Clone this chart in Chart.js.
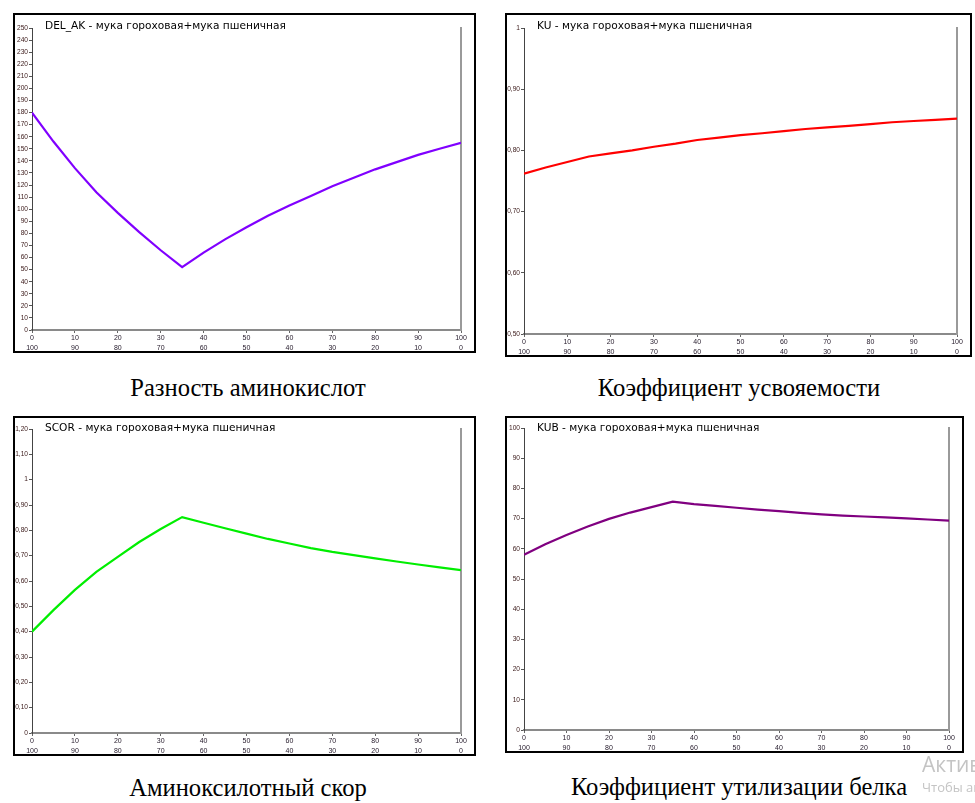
<!DOCTYPE html>
<html>
<head>
<meta charset="utf-8">
<script src="https://cdn.jsdelivr.net/npm/chart.js@4/dist/chart.umd.min.js"></script>
<style>
  body { margin: 0; background: #fff; width: 975px; height: 803px; overflow: hidden; position: relative; }
  .frame { position: absolute; border: 2px solid #000; box-sizing: border-box; background: #fff; }
  .frame canvas { position: absolute; left: 0; top: 0; }
  .ttl { position: absolute; font: 10.6px "DejaVu Sans", sans-serif; color: #000; white-space: nowrap; line-height: 12px; }
  .cap { position: absolute; font: 24.6px "Liberation Serif", serif; color: #000; white-space: nowrap; transform: translateX(-50%); line-height: 28px; }
  .wm1 { position: absolute; left: 922px; top: 750px; font: 21px "Open Sans", sans-serif; color: #c4c4c4; white-space: nowrap; }
  .wm2 { position: absolute; left: 922px; top: 778px; font: 13px "Open Sans", sans-serif; color: #c4c4c4; white-space: nowrap; }
</style>
</head>
<body>

<div class="frame" style="left:13px;top:13px;width:463px;height:340px"><canvas id="c1" width="459" height="336"></canvas></div>
<div class="frame" style="left:505px;top:13px;width:467px;height:344px"><canvas id="c2" width="463" height="340"></canvas></div>
<div class="frame" style="left:13px;top:416px;width:463px;height:340px"><canvas id="c3" width="459" height="336"></canvas></div>
<div class="frame" style="left:505px;top:416px;width:459px;height:337px"><canvas id="c4" width="455" height="333"></canvas></div>

<div class="ttl" style="left:45px;top:19px">DEL_AK - мука гороховая+мука пшеничная</div>
<div class="ttl" style="left:537px;top:19px">KU - мука гороховая+мука пшеничная</div>
<div class="ttl" style="left:45px;top:421px">SCOR - мука гороховая+мука пшеничная</div>
<div class="ttl" style="left:537px;top:421px">KUB - мука гороховая+мука пшеничная</div>

<div class="cap" style="left:248px;top:374px">Разность аминокислот</div>
<div class="cap" style="left:739px;top:374px">Коэффициент усвояемости</div>
<div class="cap" style="left:248px;top:774px">Аминоксилотный скор</div>
<div class="cap" style="left:739px;top:773px">Коэффициент утилизации белка</div>

<div class="wm1">Активация Windows</div>
<div class="wm2">Чтобы активировать Windows, перейдите в раздел "Параметры".</div>

<script>
// share of pea flour, %
const xs = [0, 5, 10, 15, 20, 25, 30, 35, 40, 45, 50, 55, 60, 65, 70, 75, 80, 85, 90, 95, 100];

const delAk = [180, 156, 134, 114, 97, 81, 66, 52, 64, 75, 85, 94.5, 103, 111, 119, 126, 133, 139, 145, 150, 155];
const ku = [0.762, 0.772, 0.781, 0.790, 0.795, 0.800, 0.806, 0.811, 0.817, 0.821, 0.825, 0.828, 0.8315, 0.835, 0.8375, 0.840, 0.843, 0.846, 0.848, 0.850, 0.852];
const scor = [0.40, 0.485, 0.565, 0.636, 0.695, 0.754, 0.805, 0.852, 0.830, 0.808, 0.787, 0.766, 0.748, 0.730, 0.715, 0.702, 0.689, 0.677, 0.665, 0.654, 0.643];
const kub = [58, 61.5, 64.6, 67.4, 69.9, 72, 73.8, 75.6, 74.8, 74.2, 73.6, 73, 72.5, 71.9, 71.4, 71, 70.7, 70.4, 70.1, 69.7, 69.3];

// tick labels
const xTop = ['0', '10', '20', '30', '40', '50', '60', '70', '80', '90', '100'];
const xBottom = ['100', '90', '80', '70', '60', '50', '40', '30', '20', '10', '0'];
const delTicks = ['0', '10', '20', '30', '40', '50', '60', '70', '80', '90', '100', '110', '120', '130', '140', '150', '160', '170', '180', '190', '200', '210', '220', '230', '240', '250'];
const kuTicks = ['0,50', '0,60', '0,70', '0,80', '0,90', '1'];
const scorTicks = ['0', '0,10', '0,20', '0,30', '0,40', '0,50', '0,60', '0,70', '0,80', '0,90', '1', '1,10', '1,20'];
const kubTicks = ['0', '10', '20', '30', '40', '50', '60', '70', '80', '90', '100'];

const tickFont = { family: 'Liberation Sans', size: 7, lineHeight: 1.3 };

function makeChart(id, values, color, yMin, yMax, yStep, yLabels, pad) {
    const points = xs.map((x, i) => ({ x: x, y: values[i] }));
    return new Chart(document.getElementById(id), {
        type: 'line',
        data: {
            datasets: [{
                data: points,
                borderColor: color,
                borderWidth: 2.2,
                pointRadius: 0,
                tension: 0,
                fill: false
            }]
        },
        options: {
            responsive: false,
            animation: false,
            layout: { padding: pad },
            plugins: { legend: { display: false }, tooltip: { enabled: false } },
            scales: {
                x: {
                    type: 'linear', min: 0, max: 100,
                    ticks: {
                        stepSize: 10, autoSkip: false, maxRotation: 0, padding: 1,
                        color: '#2a2030', font: tickFont,
                        callback: (v, i) => [xTop[i], xBottom[i]]
                    },
                    grid: { drawOnChartArea: false, tickLength: 3, color: '#666' },
                    border: { color: '#8a8a8a', width: 2 },
                    afterFit: s => { s.height = 21; }
                },
                y: {
                    min: yMin, max: yMax,
                    ticks: {
                        stepSize: yStep, autoSkip: false, padding: 1,
                        color: '#402020', font: { family: 'Liberation Sans', size: 6.6 },
                        callback: (v, i) => yLabels[i]
                    },
                    grid: { drawOnChartArea: false, tickLength: 3, color: '#555' },
                    border: { color: '#444', width: 1 },
                    afterFit: s => { s.width = 17; }
                },
                yr: {
                    position: 'right', min: yMin, max: yMax,
                    ticks: { display: false },
                    grid: { display: false },
                    border: { color: '#9a9a9a', width: 2 },
                    afterFit: s => { s.width = 0; }
                }
            }
        }
    });
}

makeChart('c1', delAk, '#8000ff', 0, 250, 10, delTicks, { top: 13, right: 13, left: 0, bottom: 0 });
makeChart('c2', ku, '#ff0000', 0.5, 1, 0.1, kuTicks, { top: 13, right: 13, left: 0, bottom: 0 });
makeChart('c3', scor, '#00ee00', 0, 1.2, 0.1, scorTicks, { top: 11, right: 13, left: 0, bottom: 0 });
makeChart('c4', kub, '#800080', 0, 100, 10, kubTicks, { top: 10, right: 13, left: 0, bottom: 0 });
</script>
</body>
</html>
